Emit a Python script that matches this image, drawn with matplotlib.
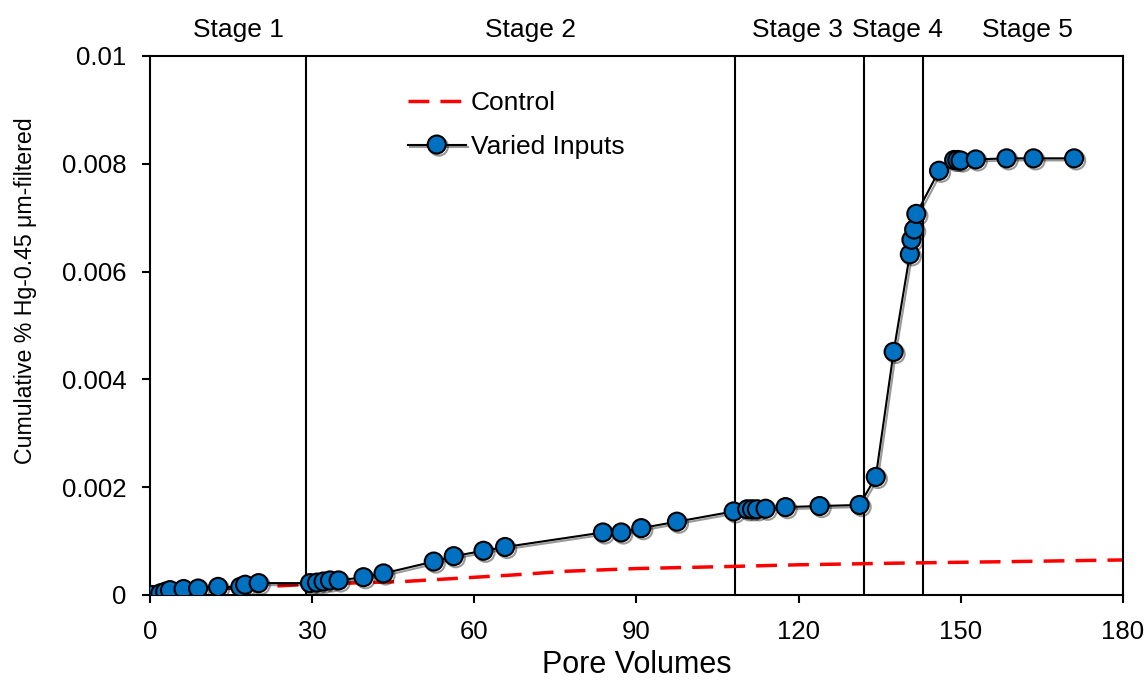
import matplotlib
matplotlib.use('Agg')
import matplotlib.pyplot as plt
import matplotlib.patheffects as pe

plt.rcParams['font.family'] = ['Liberation Sans', 'DejaVu Sans']

# Varied Inputs series (pore volumes, cumulative %)
varied_pv = [0.3, 1.9, 2.8, 3.7, 6.2, 8.9, 12.6, 16.7, 17.6, 20.1,
             29.6, 30.9, 32.1, 33.3, 34.9, 39.5, 43.2,
             52.5, 56.2, 61.7, 65.7, 83.8, 87.2, 90.9, 97.5,
             108.0, 110.5, 111.4, 112.3, 113.9, 117.6, 123.9, 131.3,
             134.3, 137.6, 140.6, 140.9, 141.4, 141.8, 146.0,
             148.8, 149.4, 150.0, 152.8, 158.5, 163.5, 171.0]
varied_hg = [0.0, 0.00003, 0.00006, 0.00009, 0.00011, 0.00012, 0.00015, 0.00015, 0.00019, 0.00022,
             0.00022, 0.00023, 0.00025, 0.00027, 0.00027, 0.00033, 0.00040,
             0.00062, 0.00072, 0.00082, 0.00089, 0.00116, 0.00116, 0.00124, 0.00136,
             0.00155, 0.00159, 0.00159, 0.00159, 0.00160, 0.00163, 0.00165, 0.00167,
             0.00219, 0.00451, 0.00632, 0.00659, 0.00678, 0.00707, 0.00787,
             0.00807, 0.00807, 0.00806, 0.00808, 0.00810, 0.00810, 0.00810]

# Control series
control_pv = [0, 10, 20, 30, 47, 57, 67, 77, 90, 108, 120, 138, 160, 180]
control_hg = [0.0, 0.00010, 0.00015, 0.00020, 0.00025, 0.00031, 0.00037,
              0.00044, 0.00049, 0.00053, 0.00056, 0.00059, 0.00062, 0.00065]

# stage boundaries and labels
stage_bounds = [28.9, 108.2, 132.1, 143.0]
stage_names = ['Stage 1', 'Stage 2', 'Stage 3', 'Stage 4', 'Stage 5']
stage_label_x = [16.3, 70.4, 119.8, 138.3, 162.4]

x_ticks = [0, 30, 60, 90, 120, 150, 180]
y_ticks = [0, 0.002, 0.004, 0.006, 0.008, 0.01]
y_tick_labels = ['0', '0.002', '0.004', '0.006', '0.008', '0.01']

fig = plt.figure(figsize=(11.48, 6.82), dpi=100)
ax = fig.add_axes([0.1307, 0.1276, 0.8473, 0.7904])

ax.plot(control_pv, control_hg, color='#FF0000', lw=2.5, dashes=(6, 3.2),
        label='Control', zorder=2)
ax.plot(varied_pv, varied_hg, color='black', lw=1.5, marker='o', ms=13,
        mfc='#0070C0', mec='black', mew=1.5, label='Varied Inputs', zorder=3,
        path_effects=[pe.SimpleLineShadow(offset=(1.5, -1.5), alpha=0.4), pe.Normal()])

for b in stage_bounds:
    ax.axvline(b, color='black', lw=1.5, zorder=1)

for name, sx in zip(stage_names, stage_label_x):
    ax.text(sx, 1.025, name, transform=ax.get_xaxis_transform(),
            ha='center', va='bottom', fontsize=19)

ax.set_xlim(0, 180)
ax.set_ylim(0, 0.01)
ax.set_xticks(x_ticks)
ax.set_yticks(y_ticks)
ax.set_yticklabels(y_tick_labels)
ax.tick_params(labelsize=18.5, length=6, width=1.5, direction='out')
ax.tick_params(axis='x', pad=12)
ax.tick_params(axis='y', pad=11)
for s in ax.spines.values():
    s.set_linewidth(1.5)

ax.set_xlabel('Pore Volumes', fontsize=22, labelpad=4)
ax.set_ylabel('Cumulative % Hg-0.45 μm-filtered', fontsize=16.7)
ax.yaxis.set_label_coords(-0.116, 0.564)

ax.legend(loc='upper left', bbox_to_anchor=(0.2405, 0.979), frameon=False,
          fontsize=19, handlelength=2.2, handletextpad=0.2, labelspacing=0.75)

fig.savefig('out.png', dpi=100)
